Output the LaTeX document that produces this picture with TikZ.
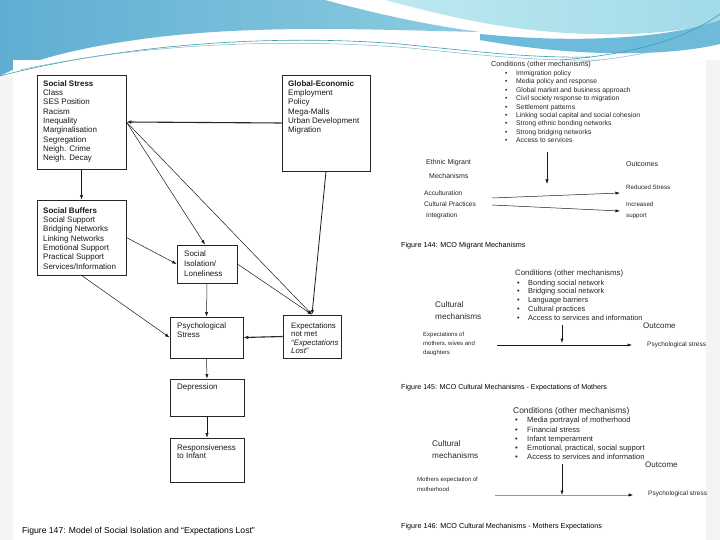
\documentclass[tikz,border=0pt]{standalone}
\usepackage{fontspec}
\setmainfont{Liberation Sans}
\usetikzlibrary{arrows.meta,calc}
\definecolor{bgblueA}{HTML}{5FAED2}
\definecolor{bgblueB}{HTML}{8CCCE0}
\definecolor{bgcyanA}{HTML}{BDE9F0}
\definecolor{bgcyanB}{HTML}{A2DAE8}
\definecolor{bgstripe}{HTML}{6DBADB}
\definecolor{bgteal}{HTML}{3C9DB2}
\definecolor{edgegrey}{HTML}{F3F5F5}
\tikzset{
  bx/.style={draw=black!85, line width=0.8pt, inner sep=0pt, fill=white},
  lbl/.style={anchor=north west, inner sep=0pt, align=left, text=black!90},
  txt/.style={anchor=west, inner sep=0pt, text=black!85},
  arr/.style={-{Latex[length=4.5pt,width=3.2pt]}, line width=0.5pt, draw=black!90},
  tarr/.style={-{Latex[length=5pt,width=3.8pt]}, line width=1.1pt, draw=black!85},
  figcap/.style={anchor=west, inner sep=0pt, text=black},
}
\newcommand{\bul}[1]{\makebox[#1][l]{\textbullet}}
\begin{document}
\begin{tikzpicture}[x=1pt,y=-1pt]
\useasboundingbox (0,0) rectangle (720,540);
% ---------- background ----------
\fill[white] (0,0) rectangle (720,540);
\shade[left color=bgblueA, right color=bgblueB]
  (0,0) -- (325,0) .. controls (370,12) and (420,24) .. (480,32)
  .. controls (380,30) and (260,24) .. (150,38)
  .. controls (80,47) and (30,60) .. (0,76) -- cycle;
\shade[left color=bgcyanA, right color=bgcyanB]
  (385,0) -- (720,0) -- (720,22) .. controls (660,38) and (570,38) .. (490,24)
  .. controls (450,17) and (415,8) .. (385,0) -- cycle;
\fill[bgstripe]
  (480,34) .. controls (580,44) and (670,38) .. (720,20) -- (720,44)
  .. controls (670,56) and (580,58) .. (480,40) -- cycle;
\fill[edgegrey] (0,76) rectangle (13,540);
\fill[edgegrey] (706,60) rectangle (720,540);
\fill[white] (13,60) rectangle (706,540);
\draw[bgteal, line width=0.6pt]
  (0,76) .. controls (100,50) and (250,32) .. (400,44) .. controls (480,52) and (530,58) .. (590,57);
\draw[bgteal!70, line width=0.5pt]
  (20,70) .. controls (120,48) and (260,36) .. (410,48) .. controls (480,55) and (530,61) .. (600,60);
\draw[bgteal, line width=0.6pt]
  (560,60) .. controls (640,54) and (690,36) .. (720,14);
\draw[bgteal!70, line width=0.5pt]
  (580,62) .. controls (650,56) and (695,42) .. (720,26);

% ---------- Figure 147 (left model) ----------
\node[bx, minimum width=89pt, minimum height=94pt] (ss) at (81.5,122) {};
\node[bx, minimum width=88pt, minimum height=96pt] (ge) at (326,123) {};
\node[bx, minimum width=89pt, minimum height=75pt] (sb) at (81.5,237.5) {};
\node[bx, minimum width=60pt, minimum height=38pt] (si) at (207,264) {};
\node[bx, minimum width=73pt, minimum height=41pt] (ps) at (206.5,337.5) {};
\node[bx, minimum width=58pt, minimum height=43pt] (ex) at (312,336.5) {};
\node[bx, minimum width=74pt, minimum height=37pt] (de) at (207,397.5) {};
\node[bx, minimum width=74pt, minimum height=44pt] (ri) at (207,460) {};

\node[lbl, font=\fontsize{8}{9.33}\selectfont] (ssT) at (43,79.4)
  {\strut\textbf{Social Stress}\\Class\\SES Position\\Racism\\Inequality\\Marginalisation\\Segregation\\Neigh. Crime\\Neigh. Decay};
\node[lbl, font=\fontsize{8}{9.33}\selectfont] (geT) at (288,79.4)
  {\strut\textbf{Global-Economic}\\Employment\\Policy\\Mega-Malls\\Urban Development\\Migration};
\node[lbl, font=\fontsize{8}{9.33}\selectfont] (sbT) at (43,206.4)
  {\strut\textbf{Social Buffers}\\Social Support\\Bridging Networks\\Linking Networks\\Emotional Support\\Practical Support\\Services/Information};
\node[lbl, font=\fontsize{8}{10}\selectfont] (siT) at (184,248.9)
  {\strut Social\\Isolation/\\Loneliness};
\node[lbl, font=\fontsize{8}{9}\selectfont] (psT) at (177,321.6)
  {\strut Psychological\\Stress};
\node[lbl, font=\fontsize{7.8}{8.5}\selectfont] (exT) at (291,322)
  {\strut Expectations\\not met\\\textit{“Expectations}\\\textit{Lost”}};
\node[lbl, font=\fontsize{8}{9}\selectfont] (deT) at (177,382.6) {\strut Depression};
\node[lbl, font=\fontsize{8}{8.6}\selectfont] (riT) at (177,444)
  {\strut Responsiveness\\to Infant};

\draw[tarr] (ge.west) -- (ss.east);
\draw[arr] (ss.east) -- ([xshift=-2pt]si.north);
\draw[arr] (ss.east) -- (ex.north);
\draw[arr, line width=0.8pt] (ge.south) -- (ex.north);
\draw[arr] (ss.south) -- (sb.north);
\draw[arr] (sb.east) -- (si.west);
\draw[arr] (sb.south) -- (ps.west);
\draw[arr] (si.south) -- (ps.north);
\draw[arr] (si.east) -- (ex.north);
\draw[tarr] (ex.west) -- (ps.east);
\draw[arr] (ps.south) -- (de.north);
\draw[arr] (de.south) -- (ri.north);

\node[figcap, font=\fontsize{8.6}{10}\selectfont] (cap147) at (22,531)
  {Figure 147: Model of Social Isolation and “Expectations Lost”};

% ---------- Figure 144 ----------
\node[txt, font=\fontsize{7.2}{8}\selectfont] (c144) at (491,65) {Conditions (other mechanisms)};
\node[lbl, font=\fontsize{6.8}{8.35}\selectfont, text=black!85] (l144) at (505,69.6)
  {\strut\bul{11pt}Immigration policy\\
   \bul{11pt}Media policy and response\\
   \bul{11pt}Global market and business approach\\
   \bul{11pt}Civil society response to migration\\
   \bul{11pt}Settlement patterns\\
   \bul{11pt}Linking social capital and social cohesion\\
   \bul{11pt}Strong ethnic bonding networks\\
   \bul{11pt}Strong bridging networks\\
   \bul{11pt}Access to services};
\node[txt, font=\fontsize{7}{8}\selectfont] (em1) at (426,163) {Ethnic Migrant};
\node[txt, font=\fontsize{7}{8}\selectfont] (em2) at (429,176) {Mechanisms};
\node[txt, font=\fontsize{7}{8}\selectfont] (oc144) at (626,164) {Outcomes};
\node[txt, font=\fontsize{6.6}{8}\selectfont] (m1) at (424,193) {Acculturation};
\node[txt, font=\fontsize{6.6}{8}\selectfont] (m2) at (424,204) {Cultural Practices};
\node[txt, font=\fontsize{6.6}{8}\selectfont] (m3) at (426,216) {Integration};
\node[txt, font=\fontsize{6.2}{8}\selectfont] (o1) at (626,187) {Reduced Stress};
\node[txt, font=\fontsize{6.2}{8}\selectfont] (o2) at (626,204) {Increased};
\node[txt, font=\fontsize{6.2}{8}\selectfont] (o3) at (626,216) {support};
\coordinate (v144a) at (547,152);
\coordinate (v144b) at (547,184);
\coordinate (h1a) at (492,198);
\coordinate (h1b) at (620,193);
\coordinate (h2a) at (492,205);
\coordinate (h2b) at (620,211);
\draw[arr] (v144a) -- (v144b);
\draw[arr] (h1a) -- (h1b);
\draw[arr] (h2a) -- (h2b);
\node[figcap, font=\fontsize{7.2}{8}\selectfont] (cap144) at (401,246) {Figure 144: MCO Migrant Mechanisms};

% ---------- Figure 145 ----------
\node[txt, font=\fontsize{7.8}{9}\selectfont] (c145) at (515,273) {Conditions (other mechanisms)};
\node[lbl, font=\fontsize{7.4}{8.75}\selectfont, text=black!85] (l145) at (517,278.8)
  {\strut\bul{11pt}Bonding social network\\
   \bul{11pt}Bridging social network\\
   \bul{11pt}Language barriers\\
   \bul{11pt}Cultural practices\\
   \bul{11pt}Access to services and information};
\node[txt, font=\fontsize{8.2}{9}\selectfont] (cm145a) at (435,305) {Cultural};
\node[txt, font=\fontsize{8.2}{9}\selectfont] (cm145b) at (435,317) {mechanisms};
\node[txt, font=\fontsize{8}{9}\selectfont] (oc145) at (643,326) {Outcome};
\node[txt, font=\fontsize{6}{7}\selectfont] (e145a) at (423,335) {Expectations of};
\node[txt, font=\fontsize{6}{7}\selectfont] (e145b) at (423,344) {mothers, wives and};
\node[txt, font=\fontsize{6}{7}\selectfont] (e145c) at (423,353) {daughters};
\node[txt, font=\fontsize{6.5}{7}\selectfont] (ps145) at (647,345) {Psychological stress};
\coordinate (v145a) at (562,325);
\coordinate (v145b) at (562,343);
\coordinate (h145a) at (497,345);
\coordinate (h145b) at (632,345);
\draw[arr] (v145a) -- (v145b);
\draw[arr] (h145a) -- (h145b);
\node[figcap, font=\fontsize{7.1}{8}\selectfont] (cap145) at (401,388)
  {Figure 145: MCO Cultural Mechanisms - Expectations of Mothers};

% ---------- Figure 146 ----------
\node[txt, font=\fontsize{8.4}{9}\selectfont] (c146) at (513,411) {Conditions (other mechanisms)};
\node[lbl, font=\fontsize{7.6}{9.25}\selectfont, text=black!85] (l146) at (515,416.2)
  {\strut\bul{12pt}Media portrayal of motherhood\\
   \bul{12pt}Financial stress\\
   \bul{12pt}Infant temperament\\
   \bul{12pt}Emotional, practical, social support\\
   \bul{12pt}Access to services and information};
\node[txt, font=\fontsize{8.2}{9}\selectfont] (cm146a) at (432,444) {Cultural};
\node[txt, font=\fontsize{8.2}{9}\selectfont] (cm146b) at (432,456) {mechanisms};
\node[txt, font=\fontsize{8}{9}\selectfont] (oc146) at (645,465) {Outcome};
\node[txt, font=\fontsize{6}{7}\selectfont] (e146a) at (417,480) {Mothers expectation of};
\node[txt, font=\fontsize{6}{7}\selectfont] (e146b) at (417,489) {motherhood};
\node[txt, font=\fontsize{6.5}{7}\selectfont] (ps146) at (648,494) {Psychological stress};
\coordinate (v146a) at (562,464);
\coordinate (v146b) at (562,495);
\coordinate (h146a) at (495,495);
\coordinate (h146b) at (633,495);
\draw[arr] (v146a) -- (v146b);
\draw[arr, draw=black!40, -{Latex[length=4.5pt,width=3.2pt,black]}] (h146a) -- (h146b);
\node[figcap, font=\fontsize{7.2}{8}\selectfont] (cap146) at (401,527)
  {Figure 146: MCO Cultural Mechanisms - Mothers Expectations};
\end{tikzpicture}
\end{document}
